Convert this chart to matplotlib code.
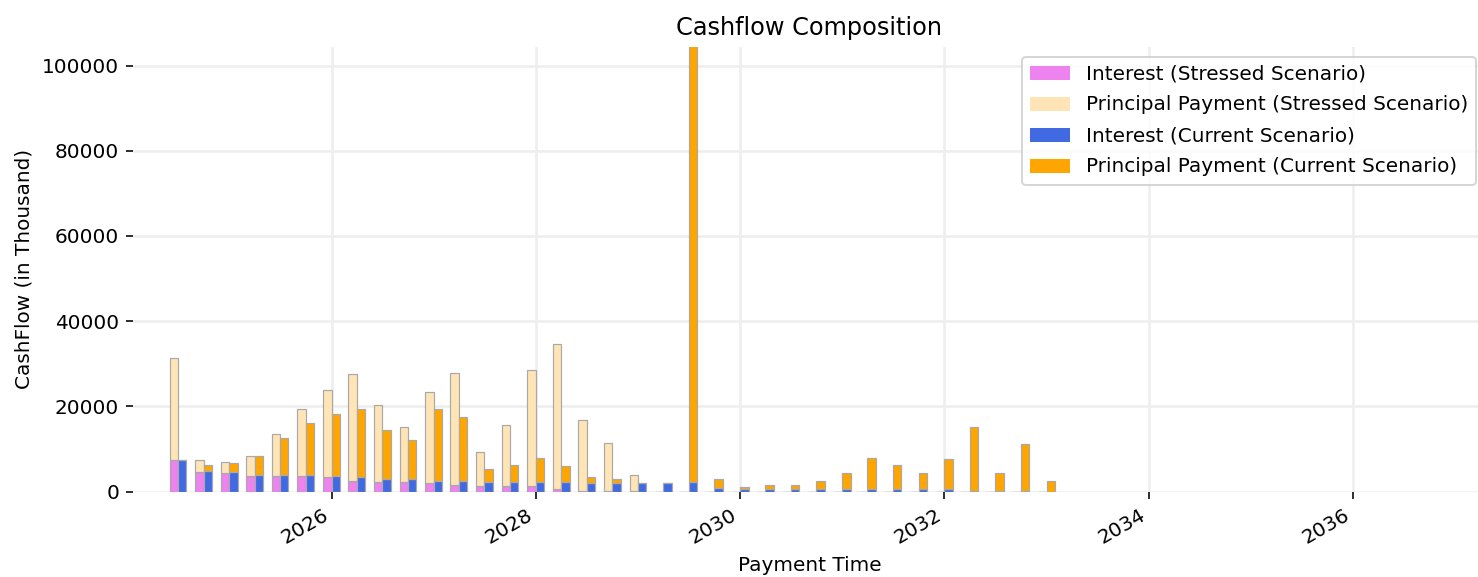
import numpy as np
import pandas as pd
import matplotlib
matplotlib.use("Agg")
import matplotlib.pyplot as plt
import matplotlib.dates as mdates

# quarterly payment dates
pay_dates = pd.date_range("2024-07-01", "2033-01-01", freq="QS")

# values in thousand
stressed_interest = [7440, 4690, 4300, 3650, 3600, 3600, 3290, 2580, 2190, 2190,
                     1900, 1600, 1250, 1250, 1250, 470, 160, 160, 50, 0,
                     0, 0, 0, 0, 0, 0, 0, 0, 0, 0,
                     0, 0, 0, 0, 0]
stressed_principal = [23860, 2750, 2740, 4800, 9900, 15800, 20510, 25020, 18110, 13070,
                      21550, 26300, 8140, 14350, 27350, 34230, 16540, 11240, 3850, 0,
                      0, 0, 0, 0, 0, 0, 0, 0, 0, 0,
                      0, 0, 0, 0, 0]
current_interest = [7440, 4930, 4690, 3910, 3910, 3910, 3600, 3290, 2970, 2970,
                    2580, 2580, 2270, 2270, 2270, 2270, 1880, 1880, 1880, 1880,
                    2190, 870, 470, 470, 470, 470, 470, 470, 470, 470,
                    470, 230, 230, 50, 0]
current_principal = [0, 1410, 2040, 4540, 8590, 12090, 14700, 16010, 11580, 9230,
                     16770, 15020, 3080, 4070, 5480, 3830, 1480, 1090, 0, 0,
                     102400, 2100, 470, 1020, 1020, 2080, 3830, 7510, 5870, 3830,
                     7200, 15030, 4070, 11150, 2580]

W, H, DPI = 1478, 577, 144
fig = plt.figure(figsize=(W / DPI, H / DPI), dpi=DPI)
ax = fig.add_axes([133 / W, (H - 491.5) / H, (1486 - 133) / W, (491.5 - 46.5) / H])

half = pd.Timedelta(days=15)
bw = 30
edge = dict(edgecolor="darkgrey", linewidth=0.6)

ax.bar(pay_dates - half, stressed_interest, width=bw, color="violet",
       label="Interest (Stressed Scenario)", **edge)
ax.bar(pay_dates - half, stressed_principal, width=bw, bottom=stressed_interest,
       color="moccasin", label="Principal Payment (Stressed Scenario)", **edge)
ax.bar(pay_dates + half, current_interest, width=bw, color="royalblue",
       label="Interest (Current Scenario)", **edge)
ax.bar(pay_dates + half, current_principal, width=bw, bottom=current_interest,
       color="orange", label="Principal Payment (Current Scenario)", **edge)

ax.set_xlim(pd.Timestamp("2024-01-22"), pd.Timestamp("2037-04-21"))
ax.set_ylim(0, 104500)
ax.xaxis.set_major_locator(mdates.YearLocator(2))
ax.xaxis.set_major_formatter(mdates.DateFormatter("%Y"))
plt.setp(ax.get_xticklabels(), rotation=30, ha="right")

ax.grid(True, color="#eeeeee", linewidth=1.3)
ax.set_axisbelow(True)
for s in ax.spines.values():
    s.set_visible(False)

ax.set_title("Cashflow Composition")
ax.set_xlabel("Payment Time")
ax.set_ylabel("CashFlow (in Thousand)")
leg = ax.legend(loc="upper right", labelspacing=0.6)
for h in leg.legend_handles:
    h.set_edgecolor("none")

fig.savefig("out.png", dpi=DPI)
